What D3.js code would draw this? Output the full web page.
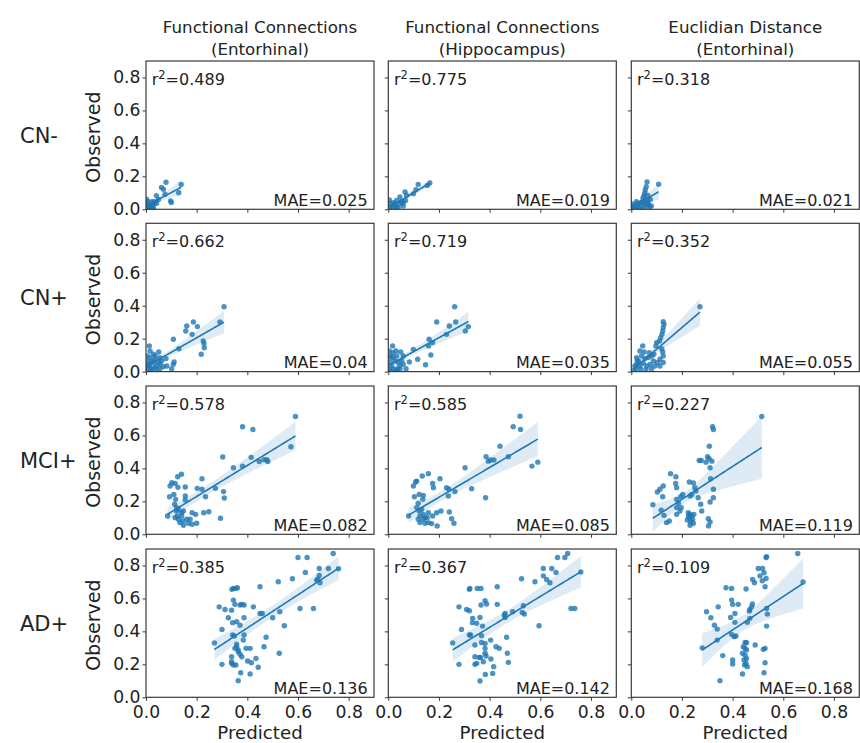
<!DOCTYPE html>
<html>
<head>
<meta charset="utf-8">
<script src="https://cdn.jsdelivr.net/npm/d3@7"></script>
<style>
  body { margin: 0; background: #fff; }
  svg { display: block; font-family: "DejaVu Sans", sans-serif; }
</style>
</head>
<body>
<div id="chart"></div>
<script>
const width = 860;
const height = 743;

const rowLabels = ["CN-", "CN+", "MCI+", "AD+"];
const colTitles = [
  ["Functional Connections", "(Entorhinal)"],
  ["Functional Connections", "(Hippocampus)"],
  ["Euclidian Distance", "(Entorhinal)"],
];
const xTicks = [0, 0.2, 0.4, 0.6, 0.8];
const yTicks = [0, 0.2, 0.4, 0.6, 0.8];

const r2Values = [
  [0.489, 0.775, 0.318],
  [0.662, 0.719, 0.352],
  [0.578, 0.585, 0.227],
  [0.385, 0.367, 0.109],
];
const maeValues = [
  [0.025, 0.019, 0.021],
  [0.04, 0.035, 0.055],
  [0.082, 0.085, 0.119],
  [0.136, 0.142, 0.168],
];

// [predicted, observed]
const cnMinusFcEnt = [
  [0.079, 0.164], [0.061, 0.133], [0.069, 0.121], [0.139, 0.151], [0.041, 0.083],
  [0.075, 0.091], [0.097, 0.050], [0.100, 0.042], [0.129, 0.101], [0.024, 0.046],
  [0.003, 0.060], [0.009, 0.046], [0.003, 0.032], [0.013, 0.020], [0.022, 0.026],
  [0.031, 0.032], [0.026, 0.016], [0.035, 0.046], [0.042, 0.036], [0.005, 0.012],
  [0.016, 0.006], [0.029, 0.006], [0.001, 0.006], [0.049, 0.060],
];
const cnMinusFcHip = [
  [0.164, 0.160], [0.154, 0.145], [0.118, 0.151], [0.109, 0.119], [0.099, 0.095],
  [0.072, 0.085], [0.066, 0.105], [0.046, 0.075], [0.053, 0.044], [0.033, 0.054],
  [0.004, 0.057], [0.009, 0.036], [0.020, 0.040], [0.026, 0.026], [0.033, 0.016],
  [0.046, 0.032], [0.059, 0.040], [0.007, 0.016], [0.017, 0.006], [0.039, 0.006],
  [0.059, 0.020], [0.068, 0.053], [0.053, 0.046],
];
const cnMinusEd = [
  [0.062, 0.166], [0.108, 0.152], [0.059, 0.137], [0.055, 0.117], [0.053, 0.097],
  [0.050, 0.081], [0.065, 0.085], [0.075, 0.060], [0.007, 0.016], [0.016, 0.026],
  [0.026, 0.036], [0.037, 0.040], [0.046, 0.046], [0.024, 0.016], [0.039, 0.020],
  [0.053, 0.026], [0.059, 0.036], [0.066, 0.040], [0.011, 0.006], [0.033, 0.006],
  [0.053, 0.006], [0.072, 0.016], [0.046, 0.067], [0.063, 0.057], [0.020, 0.046],
  [0.003, 0.032], [0.068, 0.026], [0.079, 0.020],
];

const cnPlusFcEnt = [
  [0.308, 0.394], [0.292, 0.301], [0.187, 0.301], [0.161, 0.277], [0.203, 0.273],
  [0.157, 0.246], [0.182, 0.226], [0.108, 0.196], [0.226, 0.186], [0.229, 0.170],
  [0.230, 0.145], [0.218, 0.105], [0.130, 0.139], [0.079, 0.079], [0.050, 0.119],
  [0.013, 0.156], [0.108, 0.044], [0.101, 0.018], [0.111, 0.059], [0.005, 0.095],
  [0.016, 0.085], [0.022, 0.065], [0.029, 0.055], [0.036, 0.075], [0.042, 0.034],
  [0.055, 0.044], [0.062, 0.065], [0.068, 0.030], [0.013, 0.034], [0.005, 0.024],
  [0.022, 0.014], [0.042, 0.014], [0.055, 0.018], [0.082, 0.034], [0.016, 0.125],
  [0.029, 0.105], [0.005, 0.065], [0.011, 0.044], [0.036, 0.095], [0.055, 0.085],
  [0.000, 0.004], [0.018, 0.004], [0.032, 0.024], [0.049, 0.059],
];
const cnPlusFcHip = [
  [0.262, 0.394], [0.191, 0.301], [0.241, 0.277], [0.266, 0.301], [0.316, 0.273],
  [0.304, 0.246], [0.230, 0.226], [0.161, 0.196], [0.175, 0.176], [0.159, 0.156],
  [0.168, 0.101], [0.147, 0.042], [0.099, 0.135], [0.116, 0.075], [0.083, 0.059],
  [0.059, 0.095], [0.049, 0.119], [0.017, 0.156], [0.070, 0.018], [0.004, 0.125],
  [0.009, 0.095], [0.020, 0.085], [0.026, 0.065], [0.033, 0.095], [0.039, 0.055],
  [0.046, 0.034], [0.007, 0.055], [0.013, 0.034], [0.004, 0.018], [0.022, 0.014],
  [0.036, 0.018], [0.053, 0.065], [0.007, 0.085], [0.017, 0.115], [0.030, 0.125],
  [0.009, 0.004], [0.030, 0.004], [0.046, 0.014], [0.059, 0.044],
];
const cnPlusEd = [
  [0.271, 0.394], [0.126, 0.303], [0.129, 0.287], [0.126, 0.267], [0.124, 0.246],
  [0.121, 0.226], [0.116, 0.206], [0.111, 0.186], [0.100, 0.176], [0.097, 0.156],
  [0.120, 0.139], [0.124, 0.119], [0.126, 0.095], [0.113, 0.075], [0.126, 0.055],
  [0.113, 0.034], [0.045, 0.156], [0.034, 0.125], [0.051, 0.119], [0.021, 0.085],
  [0.028, 0.065], [0.041, 0.095], [0.054, 0.079], [0.067, 0.085], [0.080, 0.095],
  [0.087, 0.065], [0.074, 0.044], [0.061, 0.034], [0.047, 0.051], [0.034, 0.034],
  [0.021, 0.044], [0.018, 0.018], [0.037, 0.014], [0.058, 0.014], [0.080, 0.018],
  [0.093, 0.034], [0.103, 0.055], [0.089, 0.105], [0.071, 0.115], [0.024, 0.065],
  [0.014, 0.034], [0.008, 0.006],
];

const mciFcEnt = [
  [0.590, 0.715], [0.381, 0.653], [0.422, 0.636], [0.572, 0.531], [0.303, 0.469],
  [0.415, 0.467], [0.466, 0.453], [0.477, 0.453], [0.481, 0.442], [0.447, 0.442],
  [0.345, 0.404], [0.381, 0.414], [0.221, 0.337], [0.202, 0.279], [0.221, 0.273],
  [0.235, 0.228], [0.274, 0.279], [0.306, 0.259], [0.309, 0.220], [0.294, 0.097],
  [0.228, 0.131], [0.248, 0.137], [0.095, 0.293], [0.102, 0.313], [0.115, 0.309],
  [0.126, 0.285], [0.140, 0.364], [0.125, 0.349], [0.093, 0.228], [0.110, 0.242],
  [0.117, 0.212], [0.113, 0.182], [0.121, 0.162], [0.120, 0.141], [0.085, 0.111],
  [0.128, 0.152], [0.140, 0.131], [0.148, 0.141], [0.155, 0.287], [0.155, 0.232],
  [0.155, 0.208], [0.161, 0.091], [0.174, 0.091], [0.182, 0.131], [0.182, 0.061],
  [0.196, 0.121], [0.200, 0.067], [0.167, 0.067], [0.148, 0.055], [0.146, 0.081],
  [0.134, 0.071], [0.128, 0.091], [0.124, 0.111], [0.115, 0.101], [0.141, 0.111],
];
const mciFcHip = [
  [0.520, 0.717], [0.493, 0.653], [0.522, 0.636], [0.567, 0.414], [0.590, 0.438],
  [0.441, 0.535], [0.474, 0.471], [0.386, 0.471], [0.395, 0.444], [0.404, 0.451],
  [0.417, 0.451], [0.303, 0.404], [0.329, 0.277], [0.384, 0.222], [0.263, 0.259],
  [0.230, 0.283], [0.237, 0.232], [0.239, 0.273], [0.204, 0.337], [0.175, 0.309],
  [0.178, 0.283], [0.158, 0.368], [0.134, 0.354], [0.108, 0.317], [0.099, 0.293],
  [0.112, 0.323], [0.103, 0.228], [0.122, 0.242], [0.138, 0.236], [0.136, 0.212],
  [0.112, 0.162], [0.118, 0.188], [0.122, 0.141], [0.132, 0.152], [0.080, 0.111],
  [0.125, 0.111], [0.138, 0.121], [0.145, 0.101], [0.158, 0.131], [0.175, 0.111],
  [0.191, 0.131], [0.208, 0.141], [0.193, 0.051], [0.158, 0.071], [0.145, 0.067],
  [0.138, 0.091], [0.154, 0.101], [0.171, 0.065], [0.125, 0.071], [0.118, 0.091],
  [0.241, 0.135], [0.250, 0.095], [0.259, 0.067],
];
const mciEd = [
  [0.515, 0.715], [0.321, 0.653], [0.324, 0.636], [0.308, 0.535], [0.301, 0.471],
  [0.307, 0.459], [0.318, 0.444], [0.311, 0.404], [0.268, 0.448], [0.276, 0.448],
  [0.295, 0.438], [0.313, 0.337], [0.324, 0.273], [0.324, 0.222], [0.155, 0.368],
  [0.176, 0.349], [0.175, 0.309], [0.179, 0.283], [0.103, 0.257], [0.113, 0.273],
  [0.126, 0.293], [0.124, 0.228], [0.229, 0.317], [0.245, 0.311], [0.251, 0.283],
  [0.255, 0.263], [0.239, 0.242], [0.232, 0.232], [0.264, 0.222], [0.274, 0.182],
  [0.278, 0.141], [0.311, 0.196], [0.179, 0.212], [0.195, 0.228], [0.203, 0.242],
  [0.186, 0.188], [0.197, 0.162], [0.179, 0.162], [0.192, 0.141], [0.179, 0.121],
  [0.118, 0.147], [0.129, 0.115], [0.139, 0.071], [0.150, 0.081], [0.225, 0.131],
  [0.232, 0.121], [0.238, 0.111], [0.229, 0.101], [0.242, 0.091], [0.221, 0.087],
  [0.234, 0.075], [0.245, 0.067], [0.232, 0.055], [0.226, 0.111], [0.247, 0.121],
  [0.304, 0.095], [0.311, 0.075], [0.305, 0.051], [0.085, 0.180],
];

const adFcEnt = [
  [0.739, 0.873], [0.600, 0.848], [0.636, 0.848], [0.629, 0.758], [0.578, 0.719],
  [0.684, 0.782], [0.720, 0.782], [0.684, 0.739], [0.674, 0.711], [0.687, 0.695],
  [0.678, 0.717], [0.661, 0.539], [0.608, 0.539], [0.522, 0.701], [0.450, 0.671],
  [0.546, 0.434], [0.526, 0.267], [0.528, 0.519], [0.450, 0.509], [0.459, 0.509],
  [0.500, 0.483], [0.424, 0.549], [0.474, 0.364], [0.466, 0.307], [0.434, 0.236],
  [0.443, 0.182], [0.345, 0.661], [0.354, 0.661], [0.361, 0.665], [0.339, 0.655],
  [0.345, 0.590], [0.351, 0.564], [0.378, 0.564], [0.387, 0.560], [0.371, 0.560],
  [0.338, 0.529], [0.325, 0.483], [0.387, 0.483], [0.289, 0.549], [0.312, 0.533],
  [0.300, 0.412], [0.342, 0.453], [0.358, 0.459], [0.371, 0.438], [0.342, 0.378],
  [0.349, 0.372], [0.387, 0.378], [0.384, 0.347], [0.358, 0.323], [0.358, 0.307],
  [0.351, 0.297], [0.395, 0.297], [0.411, 0.297], [0.364, 0.287], [0.364, 0.277],
  [0.378, 0.246], [0.371, 0.261], [0.338, 0.246], [0.338, 0.216], [0.345, 0.196],
  [0.338, 0.206], [0.355, 0.196], [0.300, 0.200], [0.401, 0.220], [0.416, 0.210],
  [0.374, 0.149], [0.411, 0.141], [0.364, 0.101], [0.270, 0.330], [0.760, 0.780],
];
const adFcHip = [
  [0.708, 0.873], [0.697, 0.848], [0.668, 0.848], [0.612, 0.782], [0.645, 0.782],
  [0.662, 0.758], [0.612, 0.737], [0.625, 0.715], [0.638, 0.695], [0.579, 0.701],
  [0.526, 0.719], [0.721, 0.539], [0.736, 0.539], [0.595, 0.434], [0.533, 0.556],
  [0.537, 0.505], [0.529, 0.515], [0.491, 0.519], [0.461, 0.509], [0.461, 0.485],
  [0.458, 0.499], [0.430, 0.671], [0.430, 0.564], [0.382, 0.586], [0.388, 0.566],
  [0.366, 0.560], [0.322, 0.661], [0.351, 0.661], [0.366, 0.661], [0.320, 0.655],
  [0.279, 0.549], [0.309, 0.533], [0.320, 0.525], [0.289, 0.412], [0.362, 0.485],
  [0.333, 0.479], [0.332, 0.453], [0.349, 0.449], [0.320, 0.378], [0.325, 0.378],
  [0.368, 0.374], [0.372, 0.432], [0.342, 0.317], [0.368, 0.333], [0.382, 0.297],
  [0.404, 0.347], [0.382, 0.327], [0.425, 0.307], [0.438, 0.297], [0.467, 0.364],
  [0.470, 0.267], [0.474, 0.212], [0.382, 0.267], [0.386, 0.251], [0.364, 0.242],
  [0.342, 0.246], [0.349, 0.206], [0.342, 0.200], [0.359, 0.242], [0.375, 0.216],
  [0.405, 0.232], [0.416, 0.186], [0.412, 0.145], [0.383, 0.139], [0.362, 0.099],
  [0.279, 0.200], [0.254, 0.330], [0.760, 0.760],
];
const adEd = [
  [0.657, 0.873], [0.532, 0.848], [0.534, 0.853], [0.501, 0.782], [0.518, 0.782],
  [0.508, 0.737], [0.524, 0.756], [0.532, 0.721], [0.517, 0.707], [0.479, 0.715],
  [0.486, 0.695], [0.528, 0.671], [0.374, 0.665], [0.396, 0.661], [0.453, 0.657],
  [0.396, 0.590], [0.400, 0.564], [0.422, 0.564], [0.478, 0.566], [0.475, 0.549],
  [0.468, 0.533], [0.466, 0.523], [0.297, 0.519], [0.314, 0.483], [0.328, 0.438],
  [0.339, 0.414], [0.343, 0.549], [0.409, 0.509], [0.392, 0.485], [0.409, 0.455],
  [0.458, 0.455], [0.468, 0.479], [0.534, 0.539], [0.537, 0.505], [0.534, 0.432],
  [0.396, 0.382], [0.406, 0.368], [0.413, 0.372], [0.339, 0.347], [0.489, 0.317],
  [0.361, 0.253], [0.449, 0.333], [0.455, 0.331], [0.442, 0.307], [0.449, 0.297],
  [0.455, 0.287], [0.439, 0.267], [0.449, 0.255], [0.455, 0.236], [0.445, 0.226],
  [0.453, 0.206], [0.447, 0.196], [0.458, 0.186], [0.439, 0.141], [0.521, 0.291],
  [0.528, 0.297], [0.528, 0.210], [0.524, 0.149], [0.400, 0.226], [0.400, 0.202],
  [0.350, 0.101], [0.280, 0.300], [0.678, 0.700],
];

const panels = [
  [cnMinusFcEnt, cnMinusFcHip, cnMinusEd],
  [cnPlusFcEnt, cnPlusFcHip, cnPlusEd],
  [mciFcEnt, mciFcHip, mciEd],
  [adFcEnt, adFcHip, adEd],
];

const blue = "#1f77b4";
const ink = "#222";
const frameColor = "#3a3a3a";
const colLeft = [146, 388.3, 631.3];
const rowTop = [61, 223.3, 386, 549];
const pw = 228;
const ph = 148.3;

const x = d3.scaleLinear().domain([0, 0.9]).range([0, pw]);
const y = d3.scaleLinear().domain([0, 0.9]).range([ph, 0]);

const svg = d3
  .select("#chart")
  .append("svg")
  .attr("width", width)
  .attr("height", height);

// least squares line; band from a robust (HC3) standard error, which
// behaves like seaborn's bootstrap band around high-leverage points
function regression(pts) {
  const n = pts.length;
  const sx = d3.sum(pts, (d) => d[0]);
  const sxx = d3.sum(pts, (d) => d[0] * d[0]);
  const det = n * sxx - sx * sx;
  const inv = [
    [sxx / det, -sx / det],
    [-sx / det, n / det],
  ];
  const mx = sx / n;
  const my = d3.mean(pts, (d) => d[1]);
  const b =
    d3.sum(pts, (d) => (d[0] - mx) * (d[1] - my)) /
    d3.sum(pts, (d) => (d[0] - mx) ** 2);
  const a = my - b * mx;

  // meat of the sandwich
  let m00 = 0, m01 = 0, m11 = 0;
  pts.forEach((d) => {
    const h = inv[0][0] + 2 * inv[0][1] * d[0] + inv[1][1] * d[0] * d[0];
    const e = d[1] - a - b * d[0];
    const w = (e * e) / ((1 - h) * (1 - h));
    m00 += w;
    m01 += w * d[0];
    m11 += w * d[0] * d[0];
  });
  const mul = (p, q) => [
    [p[0][0] * q[0][0] + p[0][1] * q[1][0], p[0][0] * q[0][1] + p[0][1] * q[1][1]],
    [p[1][0] * q[0][0] + p[1][1] * q[1][0], p[1][0] * q[0][1] + p[1][1] * q[1][1]],
  ];
  const V = mul(mul(inv, [[m00, m01], [m01, m11]]), inv);

  const [x0, x1] = d3.extent(pts, (d) => d[0]);
  return d3.range(0, 101).map((i) => {
    const xv = x0 + ((x1 - x0) * i) / 100;
    const yv = a + b * xv;
    const v = V[0][0] + 2 * V[0][1] * xv + V[1][1] * xv * xv;
    const e = 1.96 * Math.sqrt(Math.max(v, 0));
    return { x: xv, y: yv, lo: yv - e, hi: yv + e };
  });
}

// column titles
colTitles.forEach((lines, c) => {
  const t = svg
    .append("text")
    .attr("text-anchor", "middle")
    .style("font-size", "16.7px")
    .style("fill", ink);
  t.append("tspan").attr("x", colLeft[c] + pw / 2).attr("y", 32.5).text(lines[0]);
  t.append("tspan").attr("x", colLeft[c] + pw / 2).attr("y", 55).text(lines[1]);
});

panels.forEach((row, r) => {
  // row label and y label
  svg
    .append("text")
    .attr("x", 20)
    .attr("y", rowTop[r] + ph / 2 + 1)
    .attr("dominant-baseline", "central")
    .style("font-size", "21px")
    .style("fill", ink)
    .text(rowLabels[r]);

  svg
    .append("text")
    .attr("transform", `translate(100, ${rowTop[r] + ph / 2 + 2}) rotate(-90)`)
    .attr("text-anchor", "middle")
    .style("font-size", "19px")
    .style("fill", ink)
    .text("Observed");

  row.forEach((pts, c) => {
    const g = svg
      .append("g")
      .attr("transform", `translate(${colLeft[c]}, ${rowTop[r]})`);

    const clipId = `clip-${r}-${c}`;
    g.append("clipPath")
      .attr("id", clipId)
      .append("rect")
      .attr("width", pw)
      .attr("height", ph);

    const plot = g.append("g").attr("clip-path", `url(#${clipId})`);
    const fit = regression(pts);

    plot
      .append("g")
      .selectAll("circle")
      .data(pts)
      .enter()
      .append("circle")
      .attr("cx", (d) => x(d[0]))
      .attr("cy", (d) => y(d[1]))
      .attr("r", 2.7)
      .style("fill", blue)
      .style("fill-opacity", 0.8);

    plot
      .append("path")
      .datum(fit)
      .attr(
        "d",
        d3
          .area()
          .x((d) => x(d.x))
          .y0((d) => y(d.lo))
          .y1((d) => y(d.hi))
      )
      .style("fill", blue)
      .style("fill-opacity", 0.15);

    plot
      .append("path")
      .datum(fit)
      .attr(
        "d",
        d3
          .line()
          .x((d) => x(d.x))
          .y((d) => y(d.y))
      )
      .style("fill", "none")
      .style("stroke", blue)
      .style("stroke-width", 1.6);

    // axes
    const xAxis = g
      .append("g")
      .attr("transform", `translate(0, ${ph})`)
      .call(
        d3
          .axisBottom(x)
          .tickValues(xTicks)
          .tickSize(3.5)
          .tickPadding(4.5)
          .tickFormat(r === 3 ? d3.format(".1f") : () => "")
      );
    const yAxis = g.append("g").call(
      d3
        .axisLeft(y)
        .tickValues(yTicks)
        .tickSize(3.5)
        .tickPadding(2)
        .tickFormat(c === 0 ? d3.format(".1f") : () => "")
    );
    [xAxis, yAxis].forEach((ax) => {
      ax.select(".domain").remove();
      ax.selectAll("line").style("stroke", frameColor).style("stroke-width", 1);
      ax.selectAll("text")
        .style("font-size", "17.2px")
        .style("font-family", '"DejaVu Sans", sans-serif')
        .style("fill", ink);
    });

    g.append("rect")
      .attr("width", pw)
      .attr("height", ph)
      .style("fill", "none")
      .style("stroke", frameColor)
      .style("stroke-width", 1.2);

    // annotations
    const r2 = g
      .append("text")
      .attr("x", 5.7)
      .attr("y", 24)
      .style("font-size", "16px")
      .style("fill", ink);
    r2.append("tspan").text("r");
    r2.append("tspan").attr("dy", -6.5).style("font-size", "11.5px").text("2");
    r2.append("tspan").attr("dy", 6.5).text("=" + r2Values[r][c]);

    g.append("text")
      .attr("x", pw - 6.3)
      .attr("y", ph - 3.6)
      .attr("text-anchor", "end")
      .style("font-size", "16px")
      .style("fill", ink)
      .text("MAE=" + maeValues[r][c]);

    if (r === 3) {
      g.append("text")
        .attr("x", pw / 2)
        .attr("y", ph + 41.2)
        .attr("text-anchor", "middle")
        .style("font-size", "18.2px")
        .style("fill", ink)
        .text("Predicted");
    }
  });
});
</script>
</body>
</html>
